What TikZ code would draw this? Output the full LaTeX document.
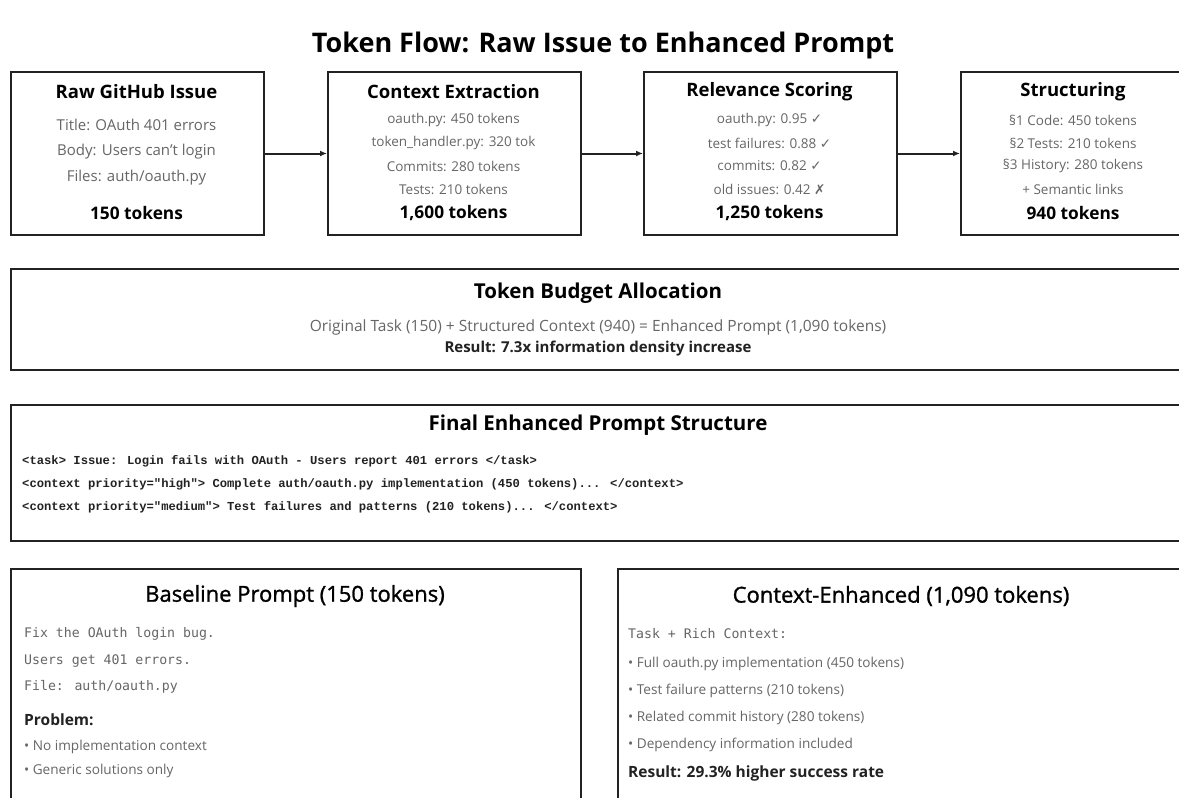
\documentclass[tikz,border=0pt]{standalone}
\usepackage{fontspec}
\setmainfont{Open Sans}
\newfontfamily\symfont{DejaVu Sans}
\newfontfamily\codefont{DejaVu Sans Mono}
\newfontfamily\tagfont{Liberation Mono}
\newfontfamily\semifont{Open Sans}[FakeBold=1.2]
\usetikzlibrary{arrows.meta}

\definecolor{boxline}{HTML}{222222}
\definecolor{bodytext}{HTML}{666666}

\tikzset{
  stage/.style={draw=boxline, line width=2pt, anchor=north west, inner sep=0pt,
    minimum width=253pt, minimum height=163pt},
  panel/.style={draw=boxline, line width=2pt, anchor=north west, inner sep=0pt},
  head/.style={font=\bfseries\fontsize{18.5}{21}\selectfont, text=black},
  bighead/.style={font=\bfseries\fontsize{20.5}{23}\selectfont, text=black},
  sidehead/.style={font=\semifont\fontsize{22}{25}\selectfont, text=black},
  small/.style={font=\fontsize{13.5}{16}\selectfont, text=bodytext},
  count/.style={font=\bfseries\fontsize{17.3}{20}\selectfont, text=black},
  code/.style={font=\codefont\fontsize{13.2}{15}\selectfont, text=bodytext, anchor=west, inner sep=0pt},
  tagline/.style={font=\tagfont\bfseries\fontsize{12.2}{14}\selectfont, text=boxline, anchor=west, inner sep=0pt},
  bullet/.style={font=\fontsize{13.6}{16}\selectfont, text=bodytext, anchor=west, inner sep=0pt},
  note/.style={font=\bfseries\fontsize{15.5}{18}\selectfont, text=boxline, anchor=west, inner sep=0pt},
  flow/.style={draw=boxline, line width=2pt, -{Latex[length=7pt,width=6pt]}},
}

\begin{document}
\begin{tikzpicture}[x=1pt,y=-1pt]
\useasboundingbox[fill=white] (0,0) rectangle (1179,798);

\node[font=\bfseries\fontsize{27}{31}\selectfont] (heading) at (603,45) {Token Flow: Raw Issue to Enhanced Prompt};

% pipeline stages
\node[stage] (raw) at (10,71) {};
\node[stage] (extract) at (327,71) {};
\node[stage] (score) at (643,71) {};
\node[stage, minimum width=226pt] (structure) at (960,71) {};

\draw[flow] (raw) -- (extract);
\draw[flow] (extract) -- (score);
\draw[flow] (score) -- (structure);

\node[head] (raw-head) at (136.5,92) {Raw GitHub Issue};
\foreach \t [count=\i] in {Title: OAuth 401 errors, Body: Users can't login, Files: auth/oauth.py}
  \node[small, font=\fontsize{15}{17}\selectfont, name=raw-\i] at (136.5,98.5+26.5*\i) {\t};
\node[count] (raw-count) at (136.5,213) {150 tokens};

\node[head] (extract-head) at (453.5,92) {Context Extraction};
\foreach \t [count=\i] in {oauth.py: 450 tokens, token\_handler.py: 320 tok, Commits: 280 tokens, Tests: 210 tokens}
  \node[small, name=extract-\i] at (453.5,97+23*\i) {\t};
\node[count] (extract-count) at (453.5,213) {1,600 tokens};

\node[head] (score-head) at (769.5,92) {Relevance Scoring};
\node[small] (score-1) at (769.5,120) {oauth.py: 0.95 {\symfont ✓}};
\node[small] (score-2) at (769.5,143) {test failures: 0.88 {\symfont ✓}};
\node[small] (score-3) at (769.5,166) {commits: 0.82 {\symfont ✓}};
\node[small] (score-4) at (769.5,189) {old issues: 0.42 {\symfont ✗}};
\node[count] (score-count) at (769.5,213) {1,250 tokens};

\node[head] (structure-head) at (1073,92) {Structuring};
\foreach \t [count=\i] in {§1 Code: 450 tokens, §2 Tests: 210 tokens, §3 History: 280 tokens, + Semantic links}
  \node[small, name=structure-\i] at (1073,97+23*\i) {\t};
\node[count] (structure-count) at (1073,213) {940 tokens};

% budget summary
\node[panel, minimum width=1176pt, minimum height=101pt] (budget) at (10,268) {};
\node[bighead] (budget-head) at (598,293) {Token Budget Allocation};
\node[small, font=\fontsize{15.5}{18}\selectfont] (budget-sum) at (598,327)
  {Original Task (150) + Structured Context (940) = Enhanced Prompt (1,090 tokens)};
\node[note, anchor=center, font=\bfseries\fontsize{15}{18}\selectfont] (budget-result) at (598,349)
  {Result: 7.3x information density increase};

% assembled prompt
\node[panel, minimum width=1176pt, minimum height=136pt] (final) at (10,404) {};
\node[bighead] (final-head) at (598,425) {Final Enhanced Prompt Structure};
\node[tagline] (final-1) at (22,461) {<task> Issue: Login fails with OAuth - Users report 401 errors </task>};
\node[tagline] (final-2) at (22,484) {<context priority="high"> Complete auth/oauth.py implementation (450 tokens)... </context>};
\node[tagline] (final-3) at (22,507) {<context priority="medium"> Test failures and patterns (210 tokens)... </context>};

% side by side comparison
\node[panel, minimum width=570pt, minimum height=260pt] (baseline) at (10,568) {};
\node[sidehead] (baseline-head) at (295,596) {Baseline Prompt (150 tokens)};
\node[code] (baseline-1) at (24,634) {Fix the OAuth login bug.};
\node[code] (baseline-2) at (24,661) {Users get 401 errors.};
\node[code] (baseline-3) at (24,687) {File: auth/oauth.py};
\node[note] (baseline-problem) at (24,720) {Problem:};
\node[bullet] (baseline-4) at (24,747) {• No implementation context};
\node[bullet] (baseline-5) at (24,771) {• Generic solutions only};

\node[panel, minimum width=569pt, minimum height=260pt] (enhanced) at (617,568) {};
\node[sidehead] (enhanced-head) at (901,596) {Context-Enhanced (1,090 tokens)};
\node[code] (enhanced-task) at (628,634) {Task + Rich Context:};
\foreach \t [count=\i] in {Full oauth.py implementation (450 tokens), Test failure patterns (210 tokens), Related commit history (280 tokens), Dependency information included}
  \node[bullet, name=enhanced-\i] at (628,637+27*\i) {• \t};
\node[note] (enhanced-result) at (628,773) {Result: 29.3\% higher success rate};
\end{tikzpicture}
\end{document}
